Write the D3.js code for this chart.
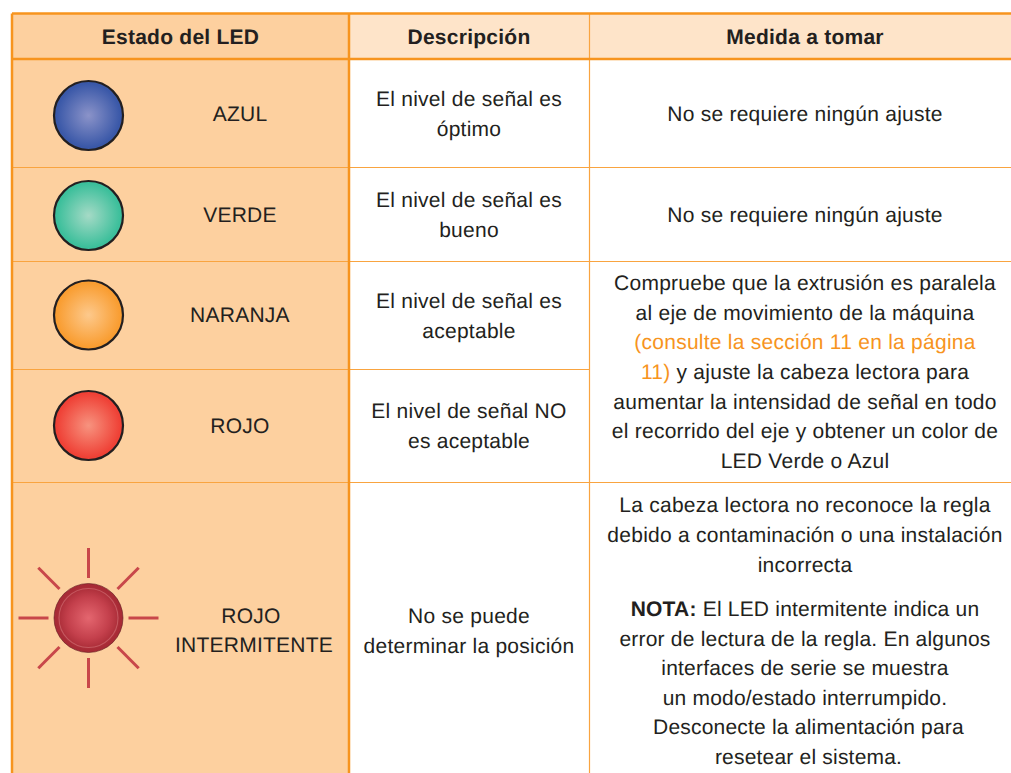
<!DOCTYPE html>
<html>
<head>
<meta charset="utf-8">
<script src="https://cdn.jsdelivr.net/npm/d3@7"></script>
<style>
html, body { margin: 0; padding: 0; background: #fff; overflow: hidden; }
text { font-family: "Liberation Sans", Arial, sans-serif; fill: #231f20; text-anchor: middle; letter-spacing: 0.25px; text-rendering: geometricPrecision; }
</style>
</head>
<body>
<div id="chart"></div>
<script>
// table content
var headers = ["Estado del LED", "Descripción", "Medida a tomar"];
var ledStates = [["AZUL"], ["VERDE"], ["NARANJA"], ["ROJO"], ["ROJO", "INTERMITENTE"]];
var descriptions = [
    ["El nivel de señal es", "óptimo"],
    ["El nivel de señal es", "bueno"],
    ["El nivel de señal es", "aceptable"],
    ["El nivel de señal NO", "es aceptable"],
    ["No se puede", "determinar la posición"]
];
var ledEdge = ["#3a58a8", "#3cbf9b", "#f99d31", "#ef4136", "#a82b36"];
var ledCore = ["#8b93c9", "#a5dac6", "#fdc98c", "#f7937f", "#e4666f"];

var width = 1011, height = 773;
var lineH = 29.6, fontSize = 21;

// layout of the grid
var colX = [12, 349, 589, 1011];
var rowY = [13.5, 59, 167.5, 261.5, 369.5, 482.5, 790];
var labelX = 240, flashLabelX = 254, ledX = 88.5, ledR = 34.5;
var descX = 469, actionX = 805;
var ledY = [115.5, 215.5, 315, 425.5, 618];
var labelY = [114, 215, 315, 426, 630];
var descY = [113.6, 214.6, 315.6, 425.6, 630.6];

var svg = d3.select("#chart").append("svg")
    .attr("width", width)
    .attr("height", height);

var defs = svg.append("defs");
ledEdge.forEach(function(c, i) {
    var g = defs.append("radialGradient").attr("id", "led" + i);
    g.append("stop").attr("offset", "0%").attr("stop-color", ledCore[i]);
    if (i == 4) g.append("stop").attr("offset", "60%").attr("stop-color", "#c4404c");
    g.append("stop").attr("offset", "92%").attr("stop-color", c);
});

// backgrounds
svg.append("rect").attr("x", colX[0]).attr("y", rowY[0]).attr("width", colX[1] - colX[0]).attr("height", height).attr("fill", "#fdd09f");
svg.append("rect").attr("x", colX[1]).attr("y", rowY[0]).attr("width", colX[3] - colX[1]).attr("height", rowY[1] - rowY[0]).attr("fill", "#fee4c9");

// grid lines
var orange = "#f7941e", thinOrange = "#f9a440";
function hline(y, w, x0, x1, c) {
    svg.append("line").attr("x1", x0).attr("x2", x1).attr("y1", y).attr("y2", y)
        .attr("stroke", c || orange).attr("stroke-width", w);
}
function vline(x, w, y0, y1, c) {
    svg.append("line").attr("x1", x).attr("x2", x).attr("y1", y0).attr("y2", y1)
        .attr("stroke", c || orange).attr("stroke-width", w);
}
hline(rowY[2], 1.2, colX[0], colX[3], thinOrange);
hline(rowY[3], 1.2, colX[0], colX[3], thinOrange);
hline(rowY[4], 1.2, colX[0], colX[2], thinOrange);
hline(rowY[5], 1.2, colX[0], colX[3], thinOrange);
vline(colX[2] + 0.5, 1.2, rowY[0], height, thinOrange);
vline(colX[0], 2.5, rowY[0], height);
vline(colX[1], 2.5, rowY[0], height);
hline(rowY[0], 2.5, colX[0], colX[3]);
hline(rowY[1], 2.5, colX[0], colX[3]);

// x may be one value or one per line
function textBlock(lines, x, yCentre, size, weight) {
    var t = svg.append("text").attr("font-size", size).attr("font-weight", weight || "normal");
    lines.forEach(function(l, i) {
        t.append("tspan").attr("x", Array.isArray(x) ? x[i] : x)
            .attr("y", yCentre + (i - (lines.length - 1) / 2) * lineH + size * 0.35)
            .text(l);
    });
    return t;
}

// header
var headX = [180.5, 469, 805];
headers.forEach(function(h, i) {
    textBlock([h], headX[i], 36.5, fontSize, "bold");
});

// leds
ledEdge.forEach(function(c, i) {
    svg.append("circle")
        .attr("cx", ledX).attr("cy", ledY[i]).attr("r", ledR)
        .attr("fill", "url(#led" + i + ")")
        .attr("stroke", i < 4 ? "#231f20" : "#5e1a1e")
        .attr("stroke-width", i < 4 ? 2.2 : 0.6);
});

// inner ring of the flashing led
svg.append("circle").attr("cx", ledX).attr("cy", ledY[4]).attr("r", 29.5)
    .attr("fill", "none").attr("stroke", "#e08a8c").attr("stroke-width", 1.1).attr("stroke-opacity", 0.45);

// rays of the flashing led
d3.range(8).forEach(function(i) {
    var a = i * Math.PI / 4;
    var diag = i % 2 == 1;
    var r0 = diag ? 41 : 40, r1 = diag ? 71 : 70;
    svg.append("line")
        .attr("x1", ledX + r0 * Math.cos(a)).attr("y1", ledY[4] + r0 * Math.sin(a))
        .attr("x2", ledX + r1 * Math.cos(a)).attr("y2", ledY[4] + r1 * Math.sin(a))
        .attr("stroke", "#c8474a").attr("stroke-width", 3);
});

// first column labels
ledStates.forEach(function(l, i) {
    textBlock(l, i == 4 ? [flashLabelX - 3, flashLabelX] : labelX, labelY[i], fontSize);
});

// second column
descriptions.forEach(function(l, i) {
    textBlock(l, descX, descY[i], fontSize);
});

// third column
textBlock(["No se requiere ningún ajuste"], actionX, 114, fontSize);
textBlock(["No se requiere ningún ajuste"], actionX, 215, fontSize);

var actionAlign = [
    "Compruebe que la extrusión es paralela",
    "al eje de movimiento de la máquina",
    "(consulte la sección 11 en la página",
    "11) y ajuste la cabeza lectora para",
    "aumentar la intensidad de señal en todo",
    "el recorrido del eje y obtener un color de",
    "LED Verde o Azul"
];
var alignBlock = textBlock(actionAlign, actionX, 371.7, fontSize);
alignBlock.selectAll("tspan").filter(function(d, i) { return i == 2; }).style("fill", "#f7941e");
var line4 = alignBlock.selectAll("tspan").filter(function(d, i) { return i == 3; });
line4.text(null);
line4.append("tspan").style("fill", "#f7941e").text("11)");
line4.append("tspan").text(" y ajuste la cabeza lectora para");

textBlock(["La cabeza lectora no reconoce la regla", "debido a contaminación o una instalación", "incorrecta"], actionX, 534.7, fontSize);

var noteLines = [
    "El LED intermitente indica un",
    "error de lectura de la regla. En algunos",
    "interfaces de serie se muestra",
    "un modo/estado interrumpido.",
    "Desconecte la alimentación para",
    "resetear el sistema."
];
var note = textBlock(noteLines, [805, 805, 805, 805, 808.5, 808.5], 682.7, fontSize).style("letter-spacing", "0.2px");
var first = note.select("tspan");
first.text(null);
first.append("tspan").attr("font-weight", "bold").text("NOTA: ");
first.append("tspan").text(noteLines[0]);
</script>
</body>
</html>
